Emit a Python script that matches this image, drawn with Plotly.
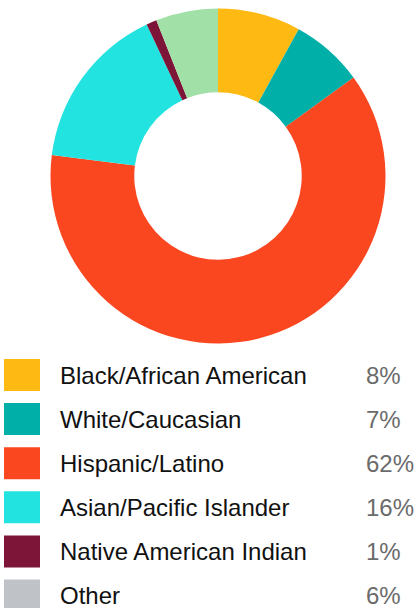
import plotly.graph_objects as go

categories = ["Black/African American", "White/Caucasian", "Hispanic/Latino",
              "Asian/Pacific Islander", "Native American Indian", "Other"]
values = [8, 7, 62, 16, 1, 6]
pct_labels = ["8%", "7%", "62%", "16%", "1%", "6%"]
slice_colors = ["#FEB913", "#00B0A8", "#FA4720", "#23E3E0", "#7D1538", "#A1E0A6"]
legend_colors = ["#FEB913", "#00B0A8", "#FA4720", "#23E3E0", "#7D1538", "#BFC2C7"]

W, H = 416, 608
cx, cy, r = 218, 176, 167.5

fig = go.Figure(go.Pie(
    labels=categories, values=values, sort=False, direction="clockwise",
    rotation=0, hole=0.5, textinfo="none", hoverinfo="label+percent",
    marker=dict(colors=slice_colors, line=dict(width=0)),
    domain=dict(x=[(cx - r) / W, (cx + r) / W], y=[1 - (cy + r) / H, 1 - (cy - r) / H]),
    showlegend=False,
))

row0, pitch, sw = 375, 44.1, 32
shapes, annots = [], []
for i, (cat, pct, col) in enumerate(zip(categories, pct_labels, legend_colors)):
    yc = row0 + pitch * i
    shapes.append(dict(type="rect", xref="paper", yref="paper",
                       x0=4 / W, x1=40 / W, y0=1 - (yc - sw / 2) / H, y1=1 - (yc + sw / 2) / H,
                       fillcolor=col, line=dict(width=0)))
    annots.append(dict(xref="paper", yref="paper", x=58 / W, y=1 - yc / H, text=cat,
                       showarrow=False, xanchor="left", yanchor="middle",
                       font=dict(family="Liberation Sans, Arial", size=24, color="#111111")))
    annots.append(dict(xref="paper", yref="paper", x=364 / W, y=1 - yc / H, text=pct,
                       showarrow=False, xanchor="left", yanchor="middle",
                       font=dict(family="Liberation Sans, Arial", size=24, color="#6b6b6b")))

fig.update_layout(width=W, height=H, margin=dict(l=0, r=0, t=0, b=0),
                  paper_bgcolor="white", plot_bgcolor="white",
                  shapes=shapes, annotations=annots)

fig.write_html("out.html")
